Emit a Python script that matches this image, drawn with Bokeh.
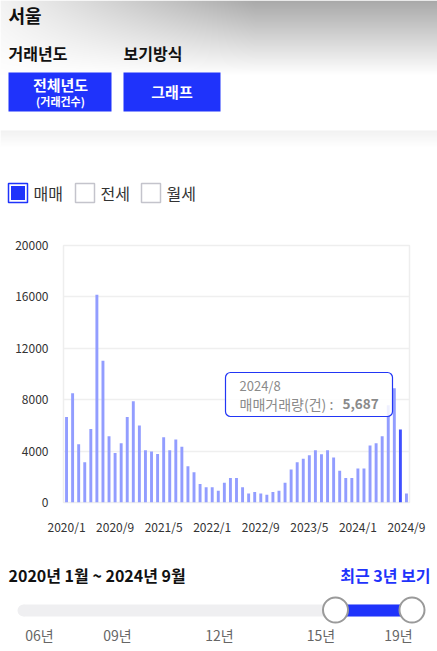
import numpy as np
from bokeh.plotting import figure
from bokeh.layouts import column
from bokeh.models import Range1d, FixedTicker, BoxAnnotation
from bokeh.core.properties import value
from bokeh.embed import file_html
from bokeh.resources import INLINE

FONT = "Noto Sans CJK KR"

# ---------------- data ----------------
months = [f"{y}/{m}" for y in range(2020, 2025) for m in range(1, 13)][:57]
sales = [6650, 8510, 4530, 3140, 5720, 16160, 11040, 5150, 3860, 4610,
         6650, 7870, 6000, 4070, 3970, 3780, 5080, 4070, 4900, 4330,
         2830, 2360, 1430, 1180, 1180, 910, 1540, 1900, 1900, 1180,
         710, 810, 710, 600, 810, 910, 1540, 2570, 3140, 3400,
         3680, 4070, 3760, 4070, 3500, 2470, 1900, 1900, 2650, 2650,
         4430, 4610, 5150, 7560, 8900, 5687, 710]
xtick_labels = ["2020/1", "2020/9", "2021/5", "2022/1", "2022/9", "2023/5", "2024/1", "2024/9"]
y_ticks = [0, 4000, 8000, 12000, 16000, 20000]
highlight_month = "2024/8"
series_name = "매매거래량(건)"
legend_items = ["매매", "전세", "월세"]
slider_labels = ["06년", "09년", "12년", "15년", "19년"]
period_text = "2020년 1월 ~ 2024년 9월"
recent_text = "최근 3년 보기"

BLUE = "#1f33fb"
W = 437


def txt(p, x, y, s, size, color, bold=False, align="left"):
    return p.text(x=[x], y=[y], text=[s], text_font=value(FONT),
                  text_font_size=f"{size}px", text_font_style="bold" if bold else "normal",
                  text_color=color, text_align=align, text_baseline="middle")


def blank_fig(h):
    f = figure(width=W, height=h, x_range=Range1d(0, W), y_range=Range1d(0, h),
               output_backend="svg", toolbar_location=None, min_border=0,
               frame_align=False)
    f.axis.visible = False
    f.grid.visible = False
    f.outline_line_color = None
    f.background_fill_color = "white"
    f.border_fill_color = "white"
    return f


# ---------------- header (page y 0..230) ----------------
HH = 230
hdr = blank_fig(HH)
Y = lambda py: HH - py

img_h = 150
view = np.zeros((img_h, W, 4), dtype=np.uint8)
pxs = np.arange(W) + 0.5
d = np.minimum(86.0, 12 + 0.29 * pxs)
for r in range(img_h):
    py = r + 0.5
    f = max(0.0, 1 - py / 74.0)
    g = 255 - d * f
    if 130 <= py < 146:
        g = np.minimum(g, 255 - 13 * (1 - (py - 130) / 16.0))
    view[r, :, 0] = g
    view[r, :, 1] = g
    view[r, :, 2] = g
    view[r, :, 3] = 255
img = view[::-1].copy().view(np.uint32).reshape(img_h, W)
hdr.image_rgba(image=[img], x=0, y=Y(img_h), dw=W, dh=img_h)

txt(hdr, 8, Y(14), "서울", 18, "#111111", bold=True)
txt(hdr, 8, Y(52), "거래년도", 16, "#111111", bold=True)
txt(hdr, 123, Y(52), "보기방식", 16, "#111111", bold=True)
hdr.quad(left=8, right=111, top=Y(72), bottom=Y(111), fill_color=BLUE, line_color=None)
hdr.quad(left=123, right=220, top=Y(72), bottom=Y(111), fill_color=BLUE, line_color=None)
txt(hdr, 60, Y(84), "전체년도", 15, "white", bold=True, align="center")
txt(hdr, 60, Y(100), "(거래건수)", 11, "white", bold=True, align="center")
txt(hdr, 171.5, Y(91), "그래프", 15, "white", bold=True, align="center")

box_x = [8, 75, 141]
for i, (bx, name) in enumerate(zip(box_x, legend_items)):
    if i == 0:
        hdr.quad(left=bx, right=bx + 19, top=Y(183), bottom=Y(202),
                 fill_color="white", line_color=BLUE, line_width=1.5)
        hdr.quad(left=bx + 2.5, right=bx + 16.5, top=Y(185.5), bottom=Y(199.5),
                 fill_color=BLUE, line_color=None)
    else:
        hdr.quad(left=bx, right=bx + 19, top=Y(183), bottom=Y(202),
                 fill_color="white", line_color="#c4c4cc", line_width=1.5)
    txt(hdr, bx + 25, Y(192.5), name, 16, "#333333")

# ---------------- chart (page y 230..540) ----------------
n = len(sales)
idx = list(range(n))
colors = ["#3f4fff" if m == highlight_month else "#8c98ff" for m in months]
alphas = [1.0 if m == highlight_month else 0.95 for m in months]

FL, FR, FT, FB = 63, 409, 245, 502
p = figure(width=W, height=310, x_range=Range1d(-0.5, n - 0.5), y_range=Range1d(0, 20000),
           output_backend="svg", toolbar_location=None, frame_align=False,
           min_border_left=FL, min_border_right=W - FR, min_border_top=FT - 230,
           min_border_bottom=540 - FB)
p.background_fill_color = "white"
p.border_fill_color = "white"
p.outline_line_color = "#eeeeee"
p.outline_line_width = 1.5
p.vbar(x=idx, top=sales, width=0.48, fill_color=colors, fill_alpha=alphas, line_color=None)

tick_pos = [months.index(t) for t in xtick_labels]
p.xaxis.ticker = FixedTicker(ticks=tick_pos)
p.xaxis.major_label_overrides = {i: t for i, t in zip(tick_pos, xtick_labels)}
p.yaxis.ticker = FixedTicker(ticks=y_ticks)
for ax in (p.xaxis, p.yaxis):
    ax.axis_line_color = None
    ax.major_tick_line_color = None
    ax.minor_tick_line_color = None
    ax.major_label_text_font = FONT
    ax.major_label_text_font_size = "12px"
    ax.major_label_text_color = "#333333"
p.xaxis.major_label_standoff = 9
p.yaxis.major_label_standoff = 9
p.xgrid.visible = False
p.ygrid.grid_line_color = "#efefef"
p.ygrid.grid_line_width = 1.5

# tooltip for the highlighted month (layout in frame pixels -> data)
step = (FR - FL) / n
dx = lambda px: (px - FL) / step - 0.5
dy = lambda py: (FB - py) * 20000 / (FB - FT)
hi = months.index(highlight_month)
p.add_layout(BoxAnnotation(left=dx(225), right=dx(392), top=dy(372), bottom=dy(416),
                           fill_color="white", fill_alpha=0.85, line_color="#2236f5",
                           line_alpha=1.0, line_width=1.2, border_radius=5))
r1 = p.text(x=[dx(239)], y=[dy(385)], text=[months[hi]], text_font=value(FONT),
            text_font_size="13px", text_color="#8a8a8a", text_baseline="middle")
r2 = p.text(x=[dx(239)], y=[dy(403)], text=[series_name + " : "], text_font=value(FONT),
            text_font_size="14px", text_color="#8a8a8a", text_baseline="middle")
r3 = p.text(x=[dx(342)], y=[dy(403)], text=[f"{sales[hi]:,}"], text_font=value(FONT),
            text_font_size="13.5px", text_font_style="bold", text_color="#8a8a8a",
            text_baseline="middle")
for r in (r1, r2, r3):
    r.level = "overlay"

# ---------------- slider (page y 540..651) ----------------
SH = 111
STOP = 540
sl = blank_fig(SH)
SY = lambda py: SH - (py - STOP)
txt(sl, 8, SY(574.5), period_text, 16, "#111111", bold=True)
txt(sl, 430, SY(574.5), recent_text, 16, BLUE, bold=True, align="right")
sl.quad(left=23, right=405, top=SY(604), bottom=SY(616), fill_color="#efeff1", line_color=None)
sl.scatter(x=[23], y=[SY(610)], size=12, marker="circle", fill_color="#efeff1", line_color=None)
sl.quad(left=335, right=411.5, top=SY(604), bottom=SY(616), fill_color=BLUE, line_color=None)
sl.scatter(x=[335, 411.5], y=[SY(609.5), SY(609.5)], size=25, marker="circle",
           fill_color="white", line_color="#9a9a9a", line_width=2)
label_x = [39, 117, 219, 320.5, 398]
for lx, lt in zip(label_x, slider_labels):
    txt(sl, lx, SY(634.5), lt, 14, "#666666", align="center")

layout = column(hdr, p, sl, spacing=0)
open("out.html", "w").write(file_html(layout, INLINE))
